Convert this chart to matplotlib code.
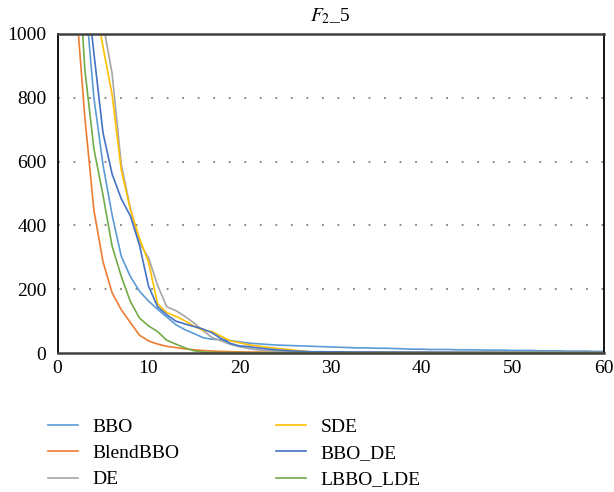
import matplotlib
matplotlib.use("Agg")
import matplotlib.pyplot as plt

generations = list(range(1, 61))

bbo = [2500, 1800, 1130, 800, 590, 433, 304, 240, 194, 163,
       137, 113, 89, 73, 61, 48, 43, 42, 39, 35,
       31, 29, 27, 25, 24, 23, 22, 21, 20, 19,
       18, 17, 16, 16, 15, 15, 14, 13, 12, 12,
       11, 11, 11, 10, 10, 10, 9, 9, 9, 8,
       8, 8, 7, 7, 7, 6, 6, 6, 5, 5]
blendbbo = [1800, 1110, 740, 448, 286, 189, 136, 96, 56, 38,
            28, 21, 17, 13, 10, 8, 6, 5, 4, 3.5,
            3, 3, 2.5, 2.5, 2, 2, 2, 2, 2, 2,
            2, 2, 1.8, 1.8, 1.8, 1.6, 1.6, 1.6, 1.5, 1.5,
            1.5, 1.4, 1.4, 1.4, 1.3, 1.3, 1.3, 1.2, 1.2, 1.2,
            1.1, 1.1, 1.1, 1, 1, 1, 1, 1, 1, 1]
de = [3000, 2500, 2000, 1500, 1035, 876, 592, 455, 345, 299,
      212, 145, 133, 115, 94, 70, 48, 38, 27, 20,
      14, 10, 8, 6, 4, 3, 3, 2.5, 2.5, 2,
      2, 2, 2, 2, 1.8, 1.8, 1.8, 1.6, 1.6, 1.6,
      1.5, 1.5, 1.5, 1.4, 1.4, 1.4, 1.3, 1.3, 1.3, 1.2,
      1.2, 1.2, 1.1, 1.1, 1.1, 1, 1, 1, 1, 1]
sde = [3000, 2400, 1800, 1115, 960, 810, 575, 450, 360, 285,
       154, 127, 115, 101, 84, 71, 67, 52, 38, 32,
       26, 22, 18, 15, 12, 9, 6, 3, 2.5, 2.5,
       2.5, 2.4, 2.4, 2.3, 2.3, 2.2, 2.2, 2.1, 2.1, 2,
       2, 2, 1.9, 1.9, 1.8, 1.8, 1.7, 1.7, 1.6, 1.6,
       1.5, 1.5, 1.5, 1.4, 1.4, 1.4, 1.3, 1.3, 1.3, 1.2]
bbo_de = [3000, 2000, 1200, 940, 690, 561, 484, 430, 339, 210,
          145, 120, 100, 91, 83, 75, 63, 45, 30, 22,
          20, 16, 13, 10, 8, 6, 5, 4, 4, 3.5,
          3.5, 3, 3, 3, 3, 2.8, 2.8, 2.6, 2.6, 2.5,
          2.5, 2.4, 2.4, 2.3, 2.3, 2.2, 2.2, 2.1, 2.1, 2,
          2, 2, 1.9, 1.9, 1.8, 1.8, 1.7, 1.7, 1.6, 1.6]
lbbo_lde = [2200, 1370, 890, 640, 495, 335, 241, 162, 110, 85,
            67, 40, 28, 16, 7, 3, 2, 1.5, 1.2, 1,
            1, 1, 0.9, 0.9, 0.9, 0.8, 0.8, 0.8, 0.7, 0.7,
            0.7, 0.7, 0.6, 0.6, 0.6, 0.6, 0.6, 0.5, 0.5, 0.5,
            0.5, 0.5, 0.5, 0.5, 0.5, 0.5, 0.5, 0.5, 0.5, 0.5,
            0.5, 0.5, 0.5, 0.5, 0.5, 0.5, 0.5, 0.5, 0.5, 0.5]

series_names = ["BBO", "BlendBBO", "DE", "SDE", "BBO_DE", "LBBO_LDE"]
series_values = [bbo, blendbbo, de, sde, bbo_de, lbbo_lde]
series_colors = ["#5B9BD5", "#ED7D31", "#A5A5A5", "#FFC000", "#4472C4", "#70AD47"]

xticks = [0, 10, 20, 30, 40, 50, 60]
yticks = [0, 200, 400, 600, 800, 1000]

plt.rcParams['font.family'] = ['Liberation Serif', 'DejaVu Serif']
plt.rcParams['mathtext.fontset'] = 'stix'

fig = plt.figure(figsize=(6.14, 4.92), dpi=100)
ax = fig.add_axes([57.5 / 614, 1 - 353 / 492, (603.5 - 57.5) / 614, (353 - 34) / 492])

for name, vals, col in zip(series_names, series_values, series_colors):
    ax.plot(generations, vals, color=col, lw=1.2, label=name)

ax.set_xlim(0, 60)
ax.set_ylim(0, 1000)
ax.set_xticks(xticks)
ax.set_yticks(yticks)
ax.tick_params(length=0, labelsize=14, colors="black")
ax.tick_params(axis='y', pad=8)
ax.tick_params(axis='x', pad=5)

for y in yticks[1:-1]:
    ax.axhline(y, color="#7f7f7f", lw=1.3, linestyle=(0, (1, 7.6)), zorder=0)

for s in ["top", "bottom"]:
    ax.spines[s].set_color("#404040")
    ax.spines[s].set_linewidth(1.8)
for s in ["left", "right"]:
    ax.spines[s].set_color("black")
    ax.spines[s].set_linewidth(1.3)

ax.set_title(r"$F_2$_5", fontsize=14, pad=9)

handles, labels = ax.get_legend_handles_labels()
leg = fig.legend(handles, labels, ncol=2, loc="upper left",
                 bbox_to_anchor=(48 / 614, 1 - 418 / 492),
                 frameon=False, fontsize=14, handlelength=1.55,
                 handletextpad=0.75, columnspacing=4.95, labelspacing=0.45,
                 borderpad=0, borderaxespad=0)

fig.savefig("out.png", dpi=100)
